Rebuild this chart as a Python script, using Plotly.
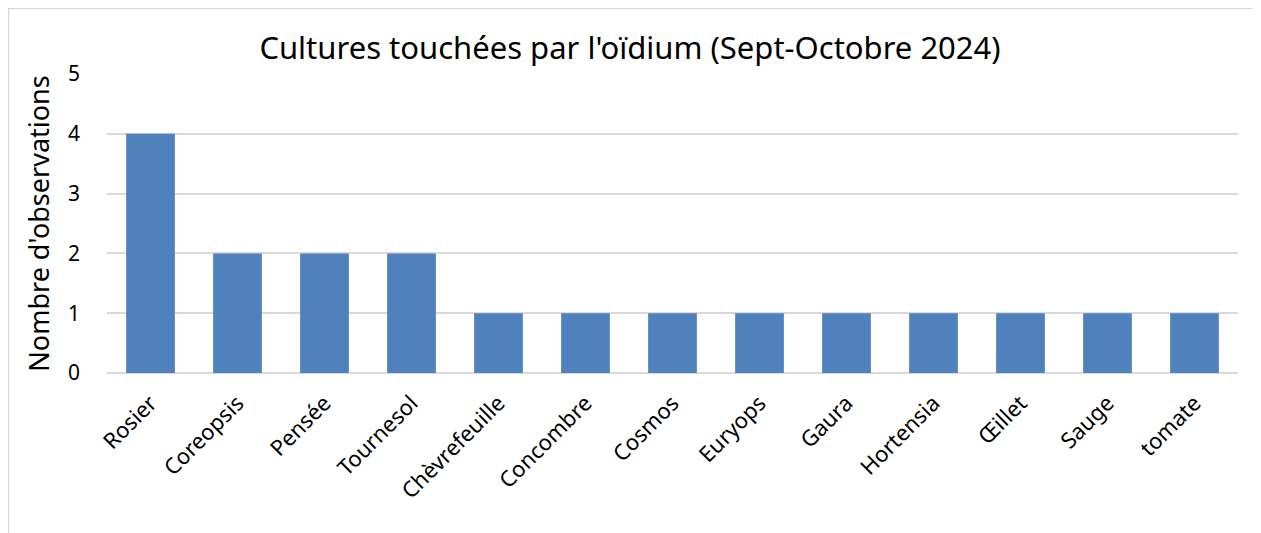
import plotly.graph_objects as go

categories = ["Rosier", "Coreopsis", "Pensée", "Tournesol", "Chèvrefeuille", "Concombre",
              "Cosmos", "Euryops", "Gaura", "Hortensia", "Œillet", "Sauge", "tomate"]
observations = [4, 2, 2, 2, 1, 1, 1, 1, 1, 1, 1, 1, 1]
y_ticks = [0, 1, 2, 3, 4, 5]

# page is offset by the 8px default body margin
OFF = 8
W, H = 1261 - OFF, 533 - OFF
L, R, T, B = 107 - OFF, 1261 - 1238, 74 - OFF, 533 - 373
pw, ph = W - L - R, H - T - B

def px_x(p):
    return (p - OFF - L) / pw

def px_y(p):
    return (H - B - (p - OFF)) / ph

fig = go.Figure(go.Bar(x=categories, y=observations, marker=dict(color="#4F81BD", line=dict(width=0))))

font = "Noto Sans"
fig.update_layout(
    width=W, height=H,
    margin=dict(l=L, r=R, t=T, b=B),
    paper_bgcolor="white", plot_bgcolor="white",
    bargap=0.44,
    showlegend=False,
    title=dict(text="Cultures touchées par l'oïdium (Sept-Octobre 2024)",
               x=(630 - OFF) / W, xref="container", xanchor="center",
               y=1 - (48 - OFF) / H, yanchor="middle",
               font=dict(family=font, size=31, color="#000000")),
    xaxis=dict(tickangle=-45, tickfont=dict(family=font, size=22, color="#000000"),
               showline=False, showgrid=False, ticks="", ticklabelstandoff=12),
    yaxis=dict(range=[0, 5], tickvals=y_ticks, showgrid=True, gridcolor="#D9D9D9", gridwidth=1.5,
               zeroline=True, zerolinecolor="#D9D9D9", zerolinewidth=1.5,
               tickfont=dict(family=font, size=21, color="#000000"), ticklabelstandoff=26,
               title=dict(text="Nombre d'observations", font=dict(family=font, size=27, color="#000000"),
                          standoff=10)),
    shapes=[dict(type="rect", xref="paper", yref="paper",
                 x0=px_x(8.5), x1=px_x(1257), y0=px_y(545), y1=px_y(8.5),
                 line=dict(color="#D9D9D9", width=1.5), fillcolor="rgba(0,0,0,0)", layer="below")],
)

fig.write_html("out.html")
